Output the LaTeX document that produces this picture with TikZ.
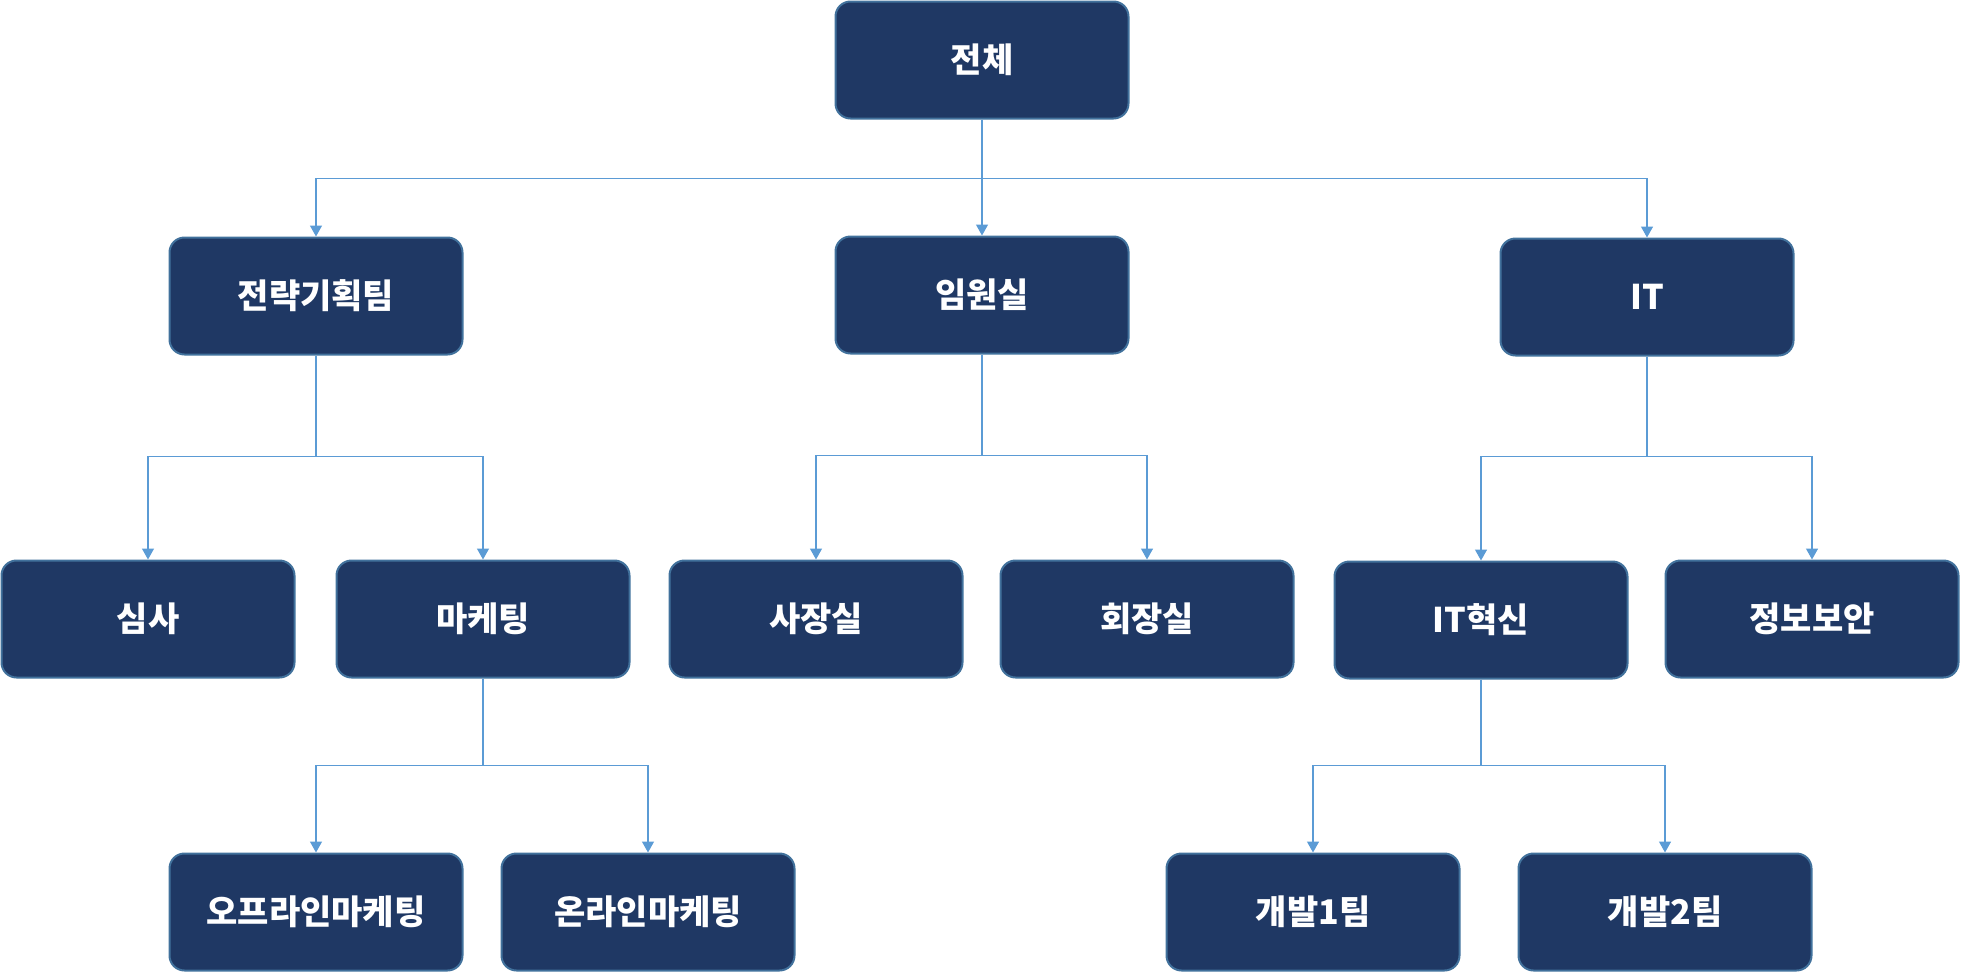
\documentclass[tikz,border=0pt]{standalone}
\usepackage{fontspec}
\setmainfont{Noto Sans CJK KR}
\usetikzlibrary{arrows.meta}
\definecolor{boxfill}{HTML}{1F3864}
\definecolor{boxline}{HTML}{41719C}
\definecolor{link}{HTML}{5B9BD5}
\newcommand{\boxfont}{\fontsize{34}{40}\selectfont\bfseries}

\begin{document}
\begin{tikzpicture}[x=1pt,y=1pt,
  unit/.style={rectangle,rounded corners=15pt,draw=boxline,line width=2pt,fill=boxfill,
    text=white,font=\boxfont,minimum width=293pt,minimum height=117pt,inner sep=0},
  wire/.style={link,line width=1.4pt,-{Triangle[length=11pt,width=12pt]}}]
\useasboundingbox (0,0) rectangle (1961,-972);
% top
\node[unit] (all) at (982,-60) {전체};
% second row
\node[unit] (plan) at (316,-296) {전략기획팀};
\node[unit] (exec) at (982,-295) {임원실};
\node[unit] (it) at (1647,-297) {IT};
% third row
\node[unit] (audit) at (148,-619) {심사};
\node[unit] (mkt) at (483,-619) {마케팅};
\node[unit] (pres) at (816,-619) {사장실};
\node[unit] (chair) at (1147,-619) {회장실};
\node[unit] (itinno) at (1481,-620) {IT혁신};
\node[unit] (sec) at (1812,-619) {정보보안};
% fourth row
\node[unit] (offmkt) at (316,-912) {오프라인마케팅};
\node[unit] (onmkt) at (648,-912) {온라인마케팅};
\node[unit] (dev1) at (1313,-912) {개발1팀};
\node[unit] (dev2) at (1665,-912) {개발2팀};
% connectors
\draw[wire] (all.south) -- ++(0,-59) -| (plan.north);
\draw[wire] (all.south) -- (exec.north);
\draw[wire] (all.south) -- ++(0,-59) -| (it.north);
\draw[wire] (plan.south) -- ++(0,-101) -| (audit.north);
\draw[wire] (plan.south) -- ++(0,-101) -| (mkt.north);
\draw[wire] (exec.south) -- ++(0,-101) -| (pres.north);
\draw[wire] (exec.south) -- ++(0,-101) -| (chair.north);
\draw[wire] (it.south) -- ++(0,-100) -| (itinno.north);
\draw[wire] (it.south) -- ++(0,-100) -| (sec.north);
\draw[wire] (mkt.south) -- ++(0,-87) -| (offmkt.north);
\draw[wire] (mkt.south) -- ++(0,-87) -| (onmkt.north);
\draw[wire] (itinno.south) -- ++(0,-86) -| (dev1.north);
\draw[wire] (itinno.south) -- ++(0,-86) -| (dev2.north);
\end{tikzpicture}
\end{document}
